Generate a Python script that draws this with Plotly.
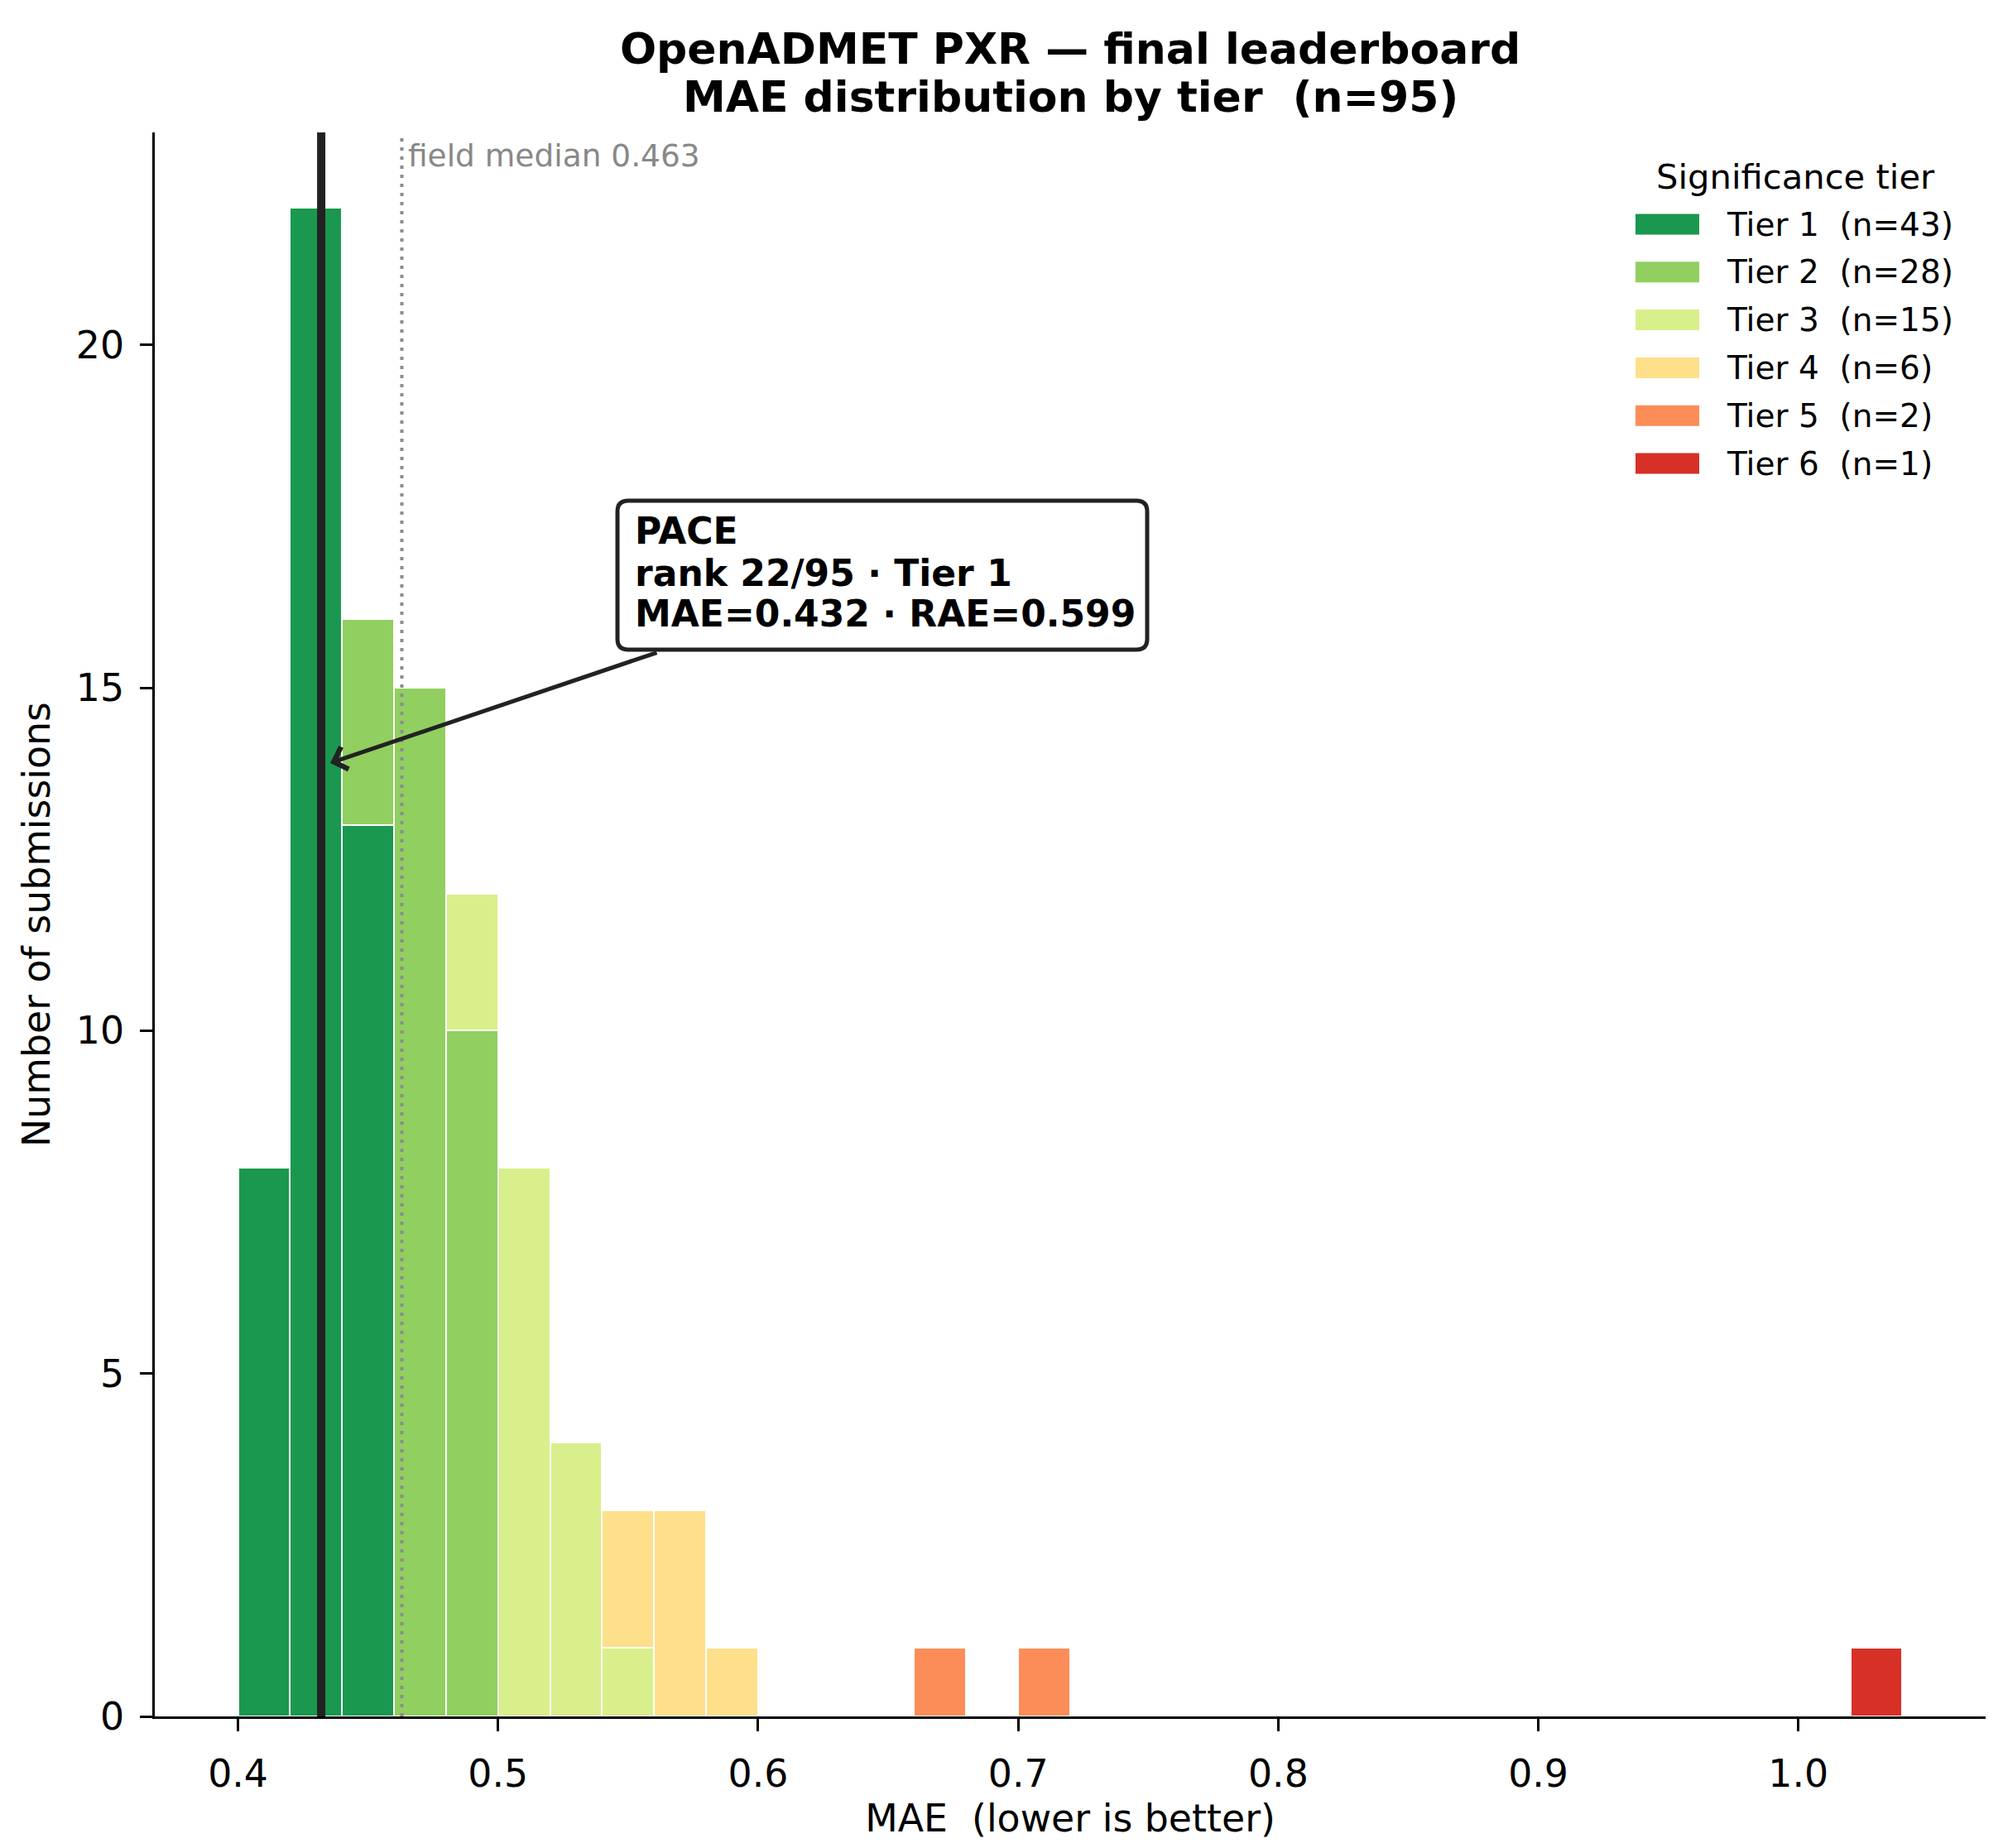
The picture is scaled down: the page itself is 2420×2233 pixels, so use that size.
import plotly.graph_objects as go

# histogram bins (left edges, width 0.02) that have at least one submission
bin_starts = [0.40, 0.42, 0.44, 0.46, 0.48, 0.50, 0.52, 0.54, 0.56, 0.58, 0.66, 0.70, 1.02]
bin_width = 0.02

# counts per tier in each bin
tier1 = [8, 22, 13, 0, 0, 0, 0, 0, 0, 0, 0, 0, 0]
tier2 = [0, 0, 3, 15, 10, 0, 0, 0, 0, 0, 0, 0, 0]
tier3 = [0, 0, 0, 0, 2, 8, 4, 1, 0, 0, 0, 0, 0]
tier4 = [0, 0, 0, 0, 0, 0, 0, 2, 3, 1, 0, 0, 0]
tier5 = [0, 0, 0, 0, 0, 0, 0, 0, 0, 0, 1, 1, 0]
tier6 = [0, 0, 0, 0, 0, 0, 0, 0, 0, 0, 0, 0, 1]

tier_names = ["Tier 1", "Tier 2", "Tier 3", "Tier 4", "Tier 5", "Tier 6"]
tier_counts = [43, 28, 15, 6, 2, 1]
tier_colors = ["#1a9850", "#91cf60", "#d9ef8b", "#fee08b", "#fc8d59", "#d73027"]

pace_mae = 0.432
pace_rae = 0.599
pace_rank = 22
n_total = 95
field_median = 0.463

FONT = "DejaVu Sans"

# figure / plot area in pixels
W, H = 2420, 2233
PX_L, PX_R, PX_T, PX_B = 179, 2391, 152, 2066
X_RANGE = [0.368, 1.072]
Y_RANGE = [0, 23.1]


def px_x(p):
    return (p - PX_L) / (PX_R - PX_L)


def px_y(p):
    return (PX_B - p) / (PX_B - PX_T)


def data_x(p):
    return X_RANGE[0] + px_x(p) * (X_RANGE[1] - X_RANGE[0])


def data_y(p):
    return Y_RANGE[0] + px_y(p) * (Y_RANGE[1] - Y_RANGE[0])


def rounded_box(left, top, right, bottom, r):
    # rounded rectangle path in paper coordinates, sizes given in pixels
    x0, x1 = px_x(left), px_x(right)
    y0, y1 = px_y(bottom), px_y(top)
    rx = r / (PX_R - PX_L)
    ry = r / (PX_B - PX_T)
    return (
        f"M{x0 + rx},{y1} L{x1 - rx},{y1} Q{x1},{y1} {x1},{y1 - ry} "
        f"L{x1},{y0 + ry} Q{x1},{y0} {x1 - rx},{y0} "
        f"L{x0 + rx},{y0} Q{x0},{y0} {x0},{y0 + ry} "
        f"L{x0},{y1 - ry} Q{x0},{y1} {x0 + rx},{y1} Z"
    )


centers = [b + bin_width / 2 for b in bin_starts]

fig = go.Figure()
for name, counts, color in zip(tier_names, [tier1, tier2, tier3, tier4, tier5, tier6], tier_colors):
    fig.add_trace(
        go.Bar(
            x=centers,
            y=[c if c > 0 else None for c in counts],
            width=bin_width,
            name=name,
            marker=dict(color=color, line=dict(color="white", width=2.5)),
            showlegend=False,
        )
    )

# PACE line and field median
fig.add_shape(
    type="line", xref="x", yref="paper", x0=pace_mae, x1=pace_mae, y0=0, y1=1,
    line=dict(color="#222222", width=10),
)
fig.add_shape(
    type="line", xref="x", yref="paper", x0=field_median, x1=field_median, y0=0, y1=1,
    line=dict(color="#8c8c8c", width=4, dash="4px,7px"),
)
fig.add_annotation(
    x=field_median, y=1, xref="x", yref="paper",
    text=f"field median {field_median:.3f}",
    showarrow=False, xanchor="left", yanchor="top", xshift=6, yshift=-4,
    font=dict(family=FONT, size=37.5, color="#888888"),
)

# callout for PACE: arrow, rounded box, three text lines
fig.add_annotation(
    x=data_x(391), y=data_y(914), xref="x", yref="y",
    ax=data_x(787), ay=data_y(780), axref="x", ayref="y",
    text="", showarrow=True, arrowhead=4, arrowsize=1.1, arrowwidth=5,
    arrowcolor="#222222", startstandoff=0,
)
fig.add_shape(
    type="path", xref="paper", yref="paper",
    path=rounded_box(738, 597, 1378, 777, 13),
    fillcolor="white", line=dict(color="#222222", width=5),
)
callout_lines = [
    "PACE",
    f"rank {pace_rank}/{n_total} · Tier 1",
    f"MAE={pace_mae:.3f} · RAE={pace_rae:.3f}",
]
for line, cy in zip(callout_lines, [633, 684, 733]):
    fig.add_annotation(
        x=px_x(757), y=px_y(cy), xref="paper", yref="paper",
        text=line, showarrow=False, xanchor="left", yanchor="middle",
        font=dict(family=FONT, size=44, color="black", weight="bold"),
    )

# legend drawn like the matplotlib one
fig.add_annotation(
    x=px_x(2161), y=px_y(205), xref="paper", yref="paper",
    text="Significance tier", showarrow=False, xanchor="center", yanchor="middle",
    font=dict(family=FONT, size=41.7, color="black"),
)
for i, (name, n, color) in enumerate(zip(tier_names, tier_counts, tier_colors)):
    cy = 263 + i * 57.8
    fig.add_shape(
        type="rect", xref="paper", yref="paper",
        x0=px_x(1968), x1=px_x(2045), y0=px_y(cy + 12.5), y1=px_y(cy - 12.5),
        fillcolor=color, line=dict(width=0),
    )
    fig.add_annotation(
        x=px_x(2076), y=px_y(cy), xref="paper", yref="paper",
        text=f"{name}  (n={n})", showarrow=False, xanchor="left", yanchor="middle",
        font=dict(family=FONT, size=39, color="black"),
    )

# second title line
fig.add_annotation(
    x=0.5, y=px_y(109), xref="paper", yref="paper",
    text="MAE distribution by tier  (n=95)", showarrow=False,
    xanchor="center", yanchor="middle",
    font=dict(family=FONT, size=52, color="black", weight="bold"),
)

axis_common = dict(
    showline=True, linecolor="black", linewidth=3.3,
    ticks="outside", ticklen=14.6, tickwidth=3.3, tickcolor="black",
    tickfont=dict(family=FONT, size=45.8, color="black"),
    showgrid=False, zeroline=False,
)

fig.update_layout(
    width=W, height=H,
    barmode="stack", bargap=0,
    plot_bgcolor="white", paper_bgcolor="white",
    margin=dict(l=PX_L, r=W - PX_R, t=PX_T, b=H - PX_B),
    font=dict(family=FONT, color="black"),
    title=dict(
        text="OpenADMET PXR — final leaderboard",
        x=0.5, xref="paper", xanchor="center",
        y=1 - 51 / H, yref="container", yanchor="middle",
        font=dict(family=FONT, size=52, color="black", weight="bold"),
    ),
    xaxis=dict(
        range=X_RANGE, tick0=0.4, dtick=0.1, tickformat=".1f",
        title=dict(text="MAE  (lower is better)", font=dict(family=FONT, size=45.8), standoff=4),
        ticklabelstandoff=12,
        **axis_common,
    ),
    yaxis=dict(
        range=Y_RANGE, tick0=0, dtick=5,
        title=dict(text="Number of submissions", font=dict(family=FONT, size=45.8), standoff=17),
        ticklabelstandoff=10,
        **axis_common,
    ),
)

fig.write_html("out.html")
